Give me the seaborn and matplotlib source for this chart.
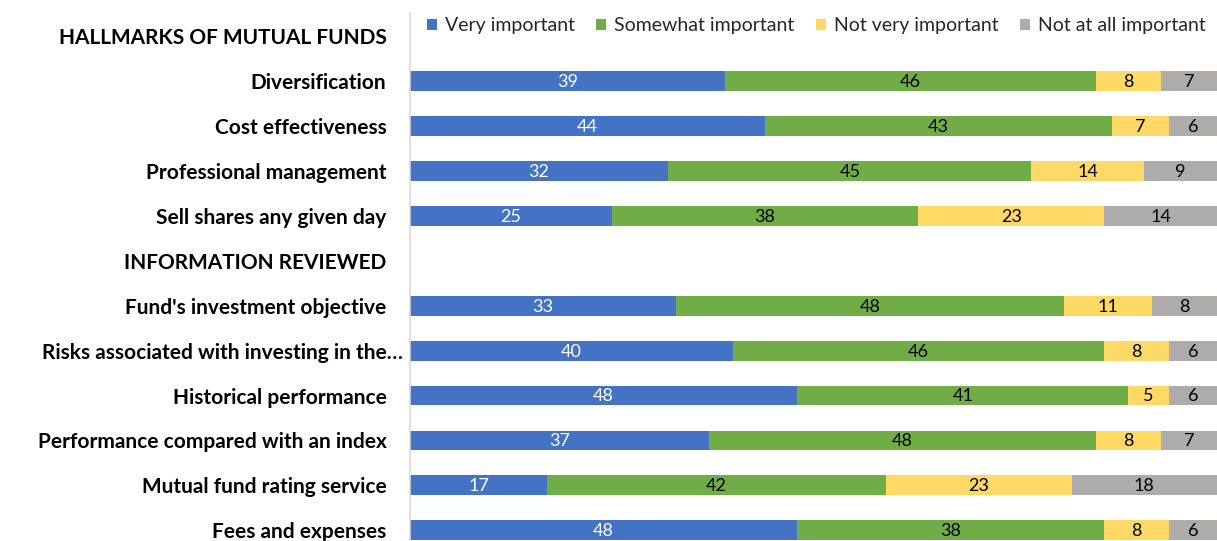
import numpy as np
import pandas as pd
import matplotlib
matplotlib.use("Agg")
import matplotlib.pyplot as plt
import matplotlib.transforms as mtrans
import seaborn as sns
from matplotlib.patches import Patch

categories = ["HALLMARKS OF MUTUAL FUNDS", "Diversification", "Cost effectiveness",
              "Professional management", "Sell shares any given day",
              "INFORMATION REVIEWED", "Fund's investment objective",
              "Risks associated with investing in the\u2026", "Historical performance",
              "Performance compared with an index", "Mutual fund rating service",
              "Fees and expenses"]
series = ["Very important", "Somewhat important", "Not very important", "Not at all important"]
very = [None, 39, 44, 32, 25, None, 33, 40, 48, 37, 17, 48]
somewhat = [None, 46, 43, 45, 38, None, 48, 46, 41, 48, 42, 38]
notvery = [None, 8, 7, 14, 23, None, 11, 8, 5, 8, 23, 8]
notatall = [None, 7, 6, 9, 14, None, 8, 6, 6, 7, 18, 6]
colors = ["#4472C4", "#70AD47", "#FFD966", "#AEABAB"]
label_colors = ["white", "black", "black", "black"]

sns.set_theme(style="white")
plt.rcParams['font.family'] = ['Lato', 'DejaVu Sans']

df = pd.DataFrame({"cat": categories, series[0]: very, series[1]: somewhat,
                   series[2]: notvery, series[3]: notatall})
df = df.dropna().reset_index(drop=True)
vals = df[series].astype(float).values
cum = np.cumsum(vals, axis=1)

fig = plt.figure(figsize=(12.17, 5.41), dpi=100)
ax = fig.add_axes([410 / 1217, 0.0, 1 - 410 / 1217, 1 - 13 / 541])

for j in range(len(series) - 1, -1, -1):
    d = pd.DataFrame({"cat": df["cat"], "v": cum[:, j]})
    sns.barplot(data=d, y="cat", x="v", order=categories, color=colors[j],
                orient="h", width=0.44, ax=ax, saturation=1, linewidth=0)

pos = {c: i for i, c in enumerate(categories)}
for i, c in enumerate(df["cat"]):
    for j in range(len(series)):
        left = cum[i, j] - vals[i, j]
        ax.text(left + vals[i, j] / 2, pos[c] + 0.02, f"{int(vals[i, j])}",
                ha="center", va="center", fontsize=13, color=label_colors[j])

ax.set_xlim(0, 100)
ax.set_ylim(11.24, -0.52)
ax.set_xlabel("")
ax.set_ylabel("")
ax.set_xticks([])
ax.tick_params(axis="y", length=0, pad=17)
shift = mtrans.ScaledTranslation(16 / 100, 0, fig.dpi_scale_trans)
for lab in ax.get_yticklabels():
    lab.set_fontweight("bold")
    lab.set_fontsize(15)
    lab.set_color("black")
    if lab.get_text().endswith("\u2026"):
        lab.set_transform(lab.get_transform() + shift)
for s in ["top", "right", "bottom"]:
    ax.spines[s].set_visible(False)
ax.spines["left"].set_color("#D9D9D9")
ax.spines["left"].set_linewidth(1.2)

handles = [Patch(facecolor=colors[j], edgecolor="none") for j in range(len(series))]
leg = fig.legend(handles, series, loc="center left", bbox_to_anchor=(427 / 1217, 1 - 26 / 541),
                 ncol=4, frameon=False, fontsize=14, handlelength=0.52, handleheight=0.52,
                 handletextpad=0.4, columnspacing=1.1, borderaxespad=0, borderpad=0)

fig.savefig("out.png", dpi=100)
